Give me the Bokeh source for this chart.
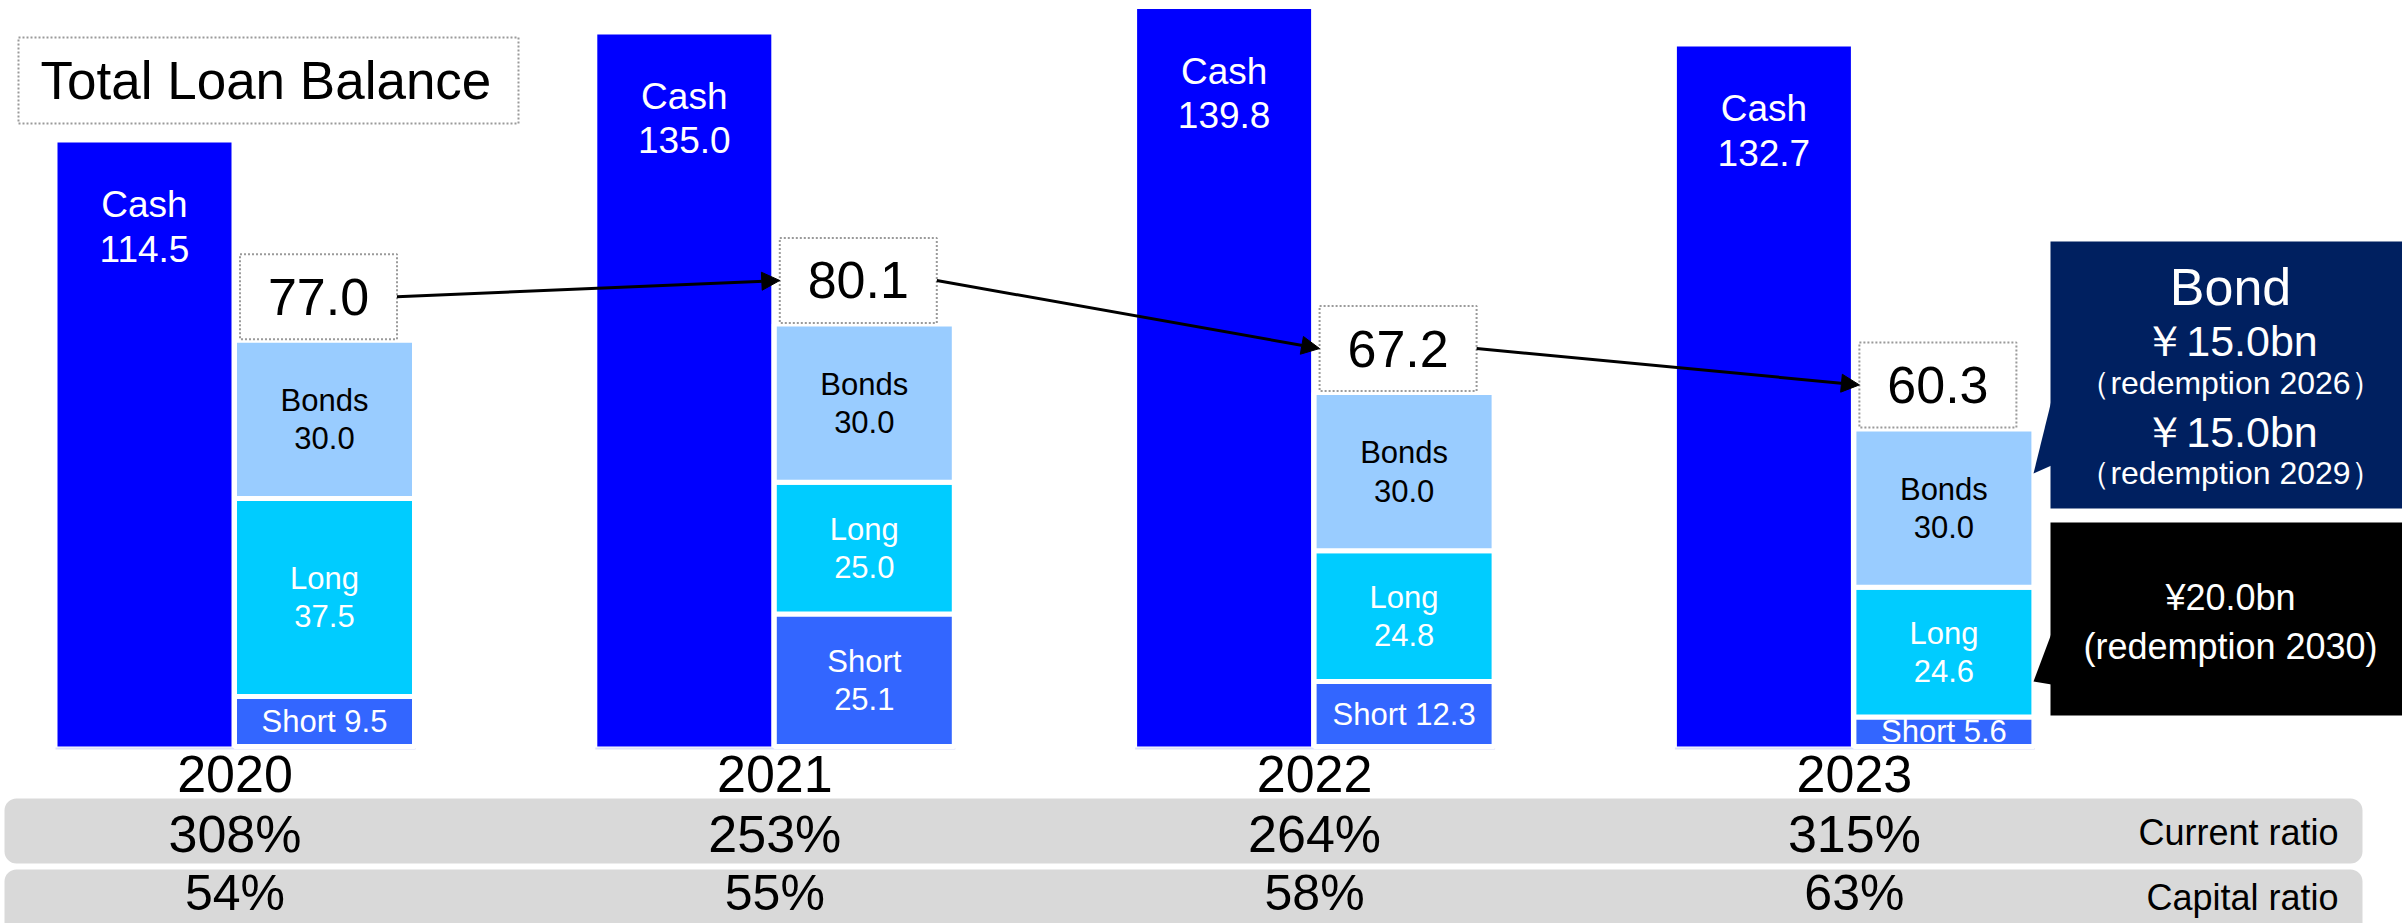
from bokeh.plotting import figure
from bokeh.models import Range1d, BoxAnnotation, Arrow, NormalHead
from bokeh.core.properties import value
from bokeh.embed import file_html
from bokeh.resources import INLINE

# ---------------- data ----------------
years = ["2020", "2021", "2022", "2023"]
cash = [114.5, 135.0, 139.8, 132.7]
bonds = [30.0, 30.0, 30.0, 30.0]
long_term = [37.5, 25.0, 24.8, 24.6]
short_term = [9.5, 25.1, 12.3, 5.6]
totals = [77.0, 80.1, 67.2, 60.3]
current_ratio = ["308%", "253%", "264%", "315%"]
capital_ratio = ["54%", "55%", "58%", "63%"]
title = "Total Loan Balance"
bond_note = ["Bond", "￥15.0bn", "（redemption 2026）", "￥15.0bn", "（redemption 2029）"]
loan_note = ["¥20.0bn", "(redemption 2030)"]
row_names = ["Current ratio", "Capital ratio"]

# ---------------- layout helpers ----------------
W, H = 2402, 923
OFF = 0            # page offset of the figure
K = 5.275          # pixels per unit
BASE = 746         # page y of zero


def v(y_page):
    return (BASE - y_page) / K


FONT = value("Liberation Sans")

p = figure(width=W, height=H, x_range=Range1d(OFF, OFF + W), y_range=Range1d(v(OFF + H), v(OFF)),
           output_backend="svg", toolbar_location=None, x_axis_type=None, y_axis_type=None,
           min_border=0)
p.outline_line_color = None
p.background_fill_color = "white"
p.border_fill_color = "white"


def txt(x, y, t, size, color="black", align="center"):
    p.text(x=x, y=y, text=t, text_font=FONT, text_font_size=size, text_color=color,
           text_align=align, text_baseline="middle")


G0, STEP = 234.5, 539.8
gx = [G0 + i * STEP for i in range(len(years))]
cx = [g - 90.5 for g in gx]
sx = [g + 89.5 for g in gx]

# grey rows
for top, bot in [(798, 863), (869, 934)]:
    p.add_layout(BoxAnnotation(left=4, right=2362, top=v(top), bottom=v(bot),
                               fill_color="#D9D9D9", fill_alpha=1, line_color=None,
                               border_radius=12, level="underlay"))

# faint baseline under each group
p.segment(x0=[c - 89 for c in cx], x1=[s + 91 for s in sx], y0=[v(748)] * 4, y1=[v(748)] * 4,
          line_color="#DCDFFA", line_width=2)

# cash bars
p.vbar(x=cx, top=cash, bottom=0, width=174, fill_color="#0000FF", line_color=None)
txt(cx, [c - 62 / K for c in cash], ["Cash"] * len(cash), "37px", "white")
txt(cx, [c - 106 / K for c in cash], [f"{c:.1f}" for c in cash], "37px", "white")

# stacked loan bars
b1 = short_term
b2 = [a + b for a, b in zip(short_term, long_term)]
b3 = [a + b for a, b in zip(b2, bonds)]
p.vbar(x=sx, bottom=0, top=b1, width=180, fill_color="#3366FF", line_color="white", line_width=5)
p.vbar(x=sx, bottom=b1, top=b2, width=180, fill_color="#00CCFF", line_color="white", line_width=5)
p.vbar(x=sx, bottom=b2, top=b3, width=180, fill_color="#99CCFF", line_color="white", line_width=5)

LS = 19 / K  # half line spacing in data units
bond_mid = [(a + b) / 2 for a, b in zip(b2, b3)]
txt(sx, [m + LS for m in bond_mid], ["Bonds"] * 4, "31px", "black")
txt(sx, [m - LS for m in bond_mid], [f"{b:.1f}" for b in bonds], "31px", "black")
long_mid = [(a + b) / 2 for a, b in zip(b1, b2)]
txt(sx, [m + LS for m in long_mid], ["Long"] * 4, "31px", "white")
txt(sx, [m - LS for m in long_mid], [f"{l:.1f}" for l in long_term], "31px", "white")
one_x, one_y, one_t, two_x, two_y, two_v = [], [], [], [], [], []
for x, s in zip(sx, short_term):
    if s < 15:
        one_x.append(x); one_y.append(s / 2); one_t.append(f"Short {s:.1f}")
    else:
        two_x.append(x); two_y.append(s / 2); two_v.append(f"{s:.1f}")
txt(one_x, one_y, one_t, "31px", "white")
txt(two_x, [y + LS for y in two_y], ["Short"] * len(two_x), "31px", "white")
txt(two_x, [y - LS for y in two_y], two_v, "31px", "white")

# total boxes
bl = [s - 84.5 for s in sx]
bb = [t + 1 / K for t in totals]
bt = [b + 85 / K for b in bb]
p.quad(left=bl, right=[l + 157 for l in bl], bottom=bb, top=bt, fill_color="white",
       line_color="#9A9A9A", line_width=2, line_dash="2 2")
mid = [(a + b) / 2 for a, b in zip(bb, bt)]
txt([l + 78.5 for l in bl], mid, [f"{t:.1f}" for t in totals], "52px")
for i in range(len(years) - 1):
    p.add_layout(Arrow(end=NormalHead(size=18, fill_color="black", line_color="black"),
                       x_start=bl[i] + 157, y_start=mid[i], x_end=bl[i + 1], y_end=mid[i + 1],
                       line_color="black", line_width=3))

# title box
p.quad(left=[18], right=[518], bottom=[v(123)], top=[v(37)], fill_color="white",
       line_color="#9A9A9A", line_width=2, line_dash="2 2")
txt([40], [v(80)], [title], "53px", align="left")

# year labels and ratio rows
txt(gx, [v(773)] * 4, years, "52px")
txt(gx, [v(833)] * 4, current_ratio, "52px")
txt(gx, [v(892)] * 4, capital_ratio, "50px")
txt([2338, 2338], [v(832), v(897)], row_names, "36px", align="right")

# callouts
p.quad(left=[2050], right=[2410], top=[v(241)], bottom=[v(508)], fill_color="#002060",
       line_color=None)
p.patch(x=[2051, 2033, 2051], y=[v(400), v(473), v(465)], fill_color="#002060", line_color=None)
p.quad(left=[2050], right=[2410], top=[v(522)], bottom=[v(715)], fill_color="#000000",
       line_color=None)
p.patch(x=[2051, 2033, 2051], y=[v(633), v(681), v(684)], fill_color="#000000", line_color=None)

bond_y = [286, 340, 382, 431, 472]
bond_sz = ["52px", "43px", "32px", "43px", "32px"]
for t, yy, sz in zip(bond_note, bond_y, bond_sz):
    txt([2230], [v(yy)], [t], sz, "white")
for t, yy in zip(loan_note, [597, 646]):
    txt([2230], [v(yy)], [t], "36px", "white")

open("out.html", "w").write(file_html(p, INLINE))
